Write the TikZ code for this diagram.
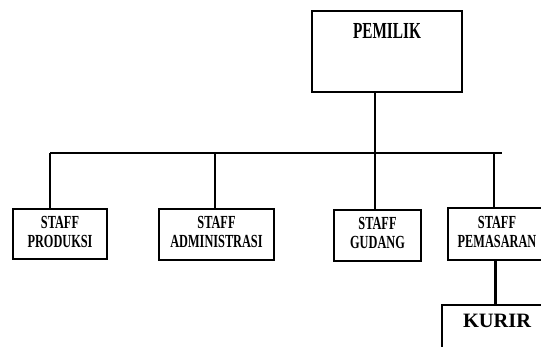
\documentclass[tikz,border=0pt]{standalone}
\usepackage{fontspec}
\usepackage{graphicx}
\setmainfont{Liberation Serif}
\newcommand\tallstack[2]{\scalebox{1}[1.5]{\begin{tabular}{@{}c@{}}#1\\#2\end{tabular}}}
\tikzset{
  box/.style={draw=black, line width=1.5pt, rectangle, inner sep=0pt},
  stafftext/.style={font=\bfseries\fontsize{12.3}{12.7}\selectfont, inner sep=0pt},
  link/.style={draw=black, line width=2pt},
  bus/.style={draw=black, line width=2.6pt},
}
\begin{document}
\begin{tikzpicture}[x=1pt,y=-1pt]
\useasboundingbox (0,0) rectangle (541,347);
\clip (0,0) rectangle (541,347);
% owner
\node[box, minimum width=150, minimum height=81] (pemilik) at (387,51.5) {};
\node[inner sep=0pt, font=\bfseries\fontsize{15.3}{16}\selectfont] (pemiliktext) at (387,30.5) {\scalebox{1}[1.5]{PEMILIK}};
% staff boxes
\node[box, minimum width=94, minimum height=50] (produksi) at (60,234) {};
\node[stafftext] (produksitext) at (60,234) {\tallstack{STAFF}{PRODUKSI}};
\node[box, minimum width=115, minimum height=51] (admin) at (216.5,234.5) {};
\node[stafftext] (admintext) at (216.5,234.5) {\tallstack{STAFF}{ADMINISTRASI}};
\node[box, minimum width=87, minimum height=51] (gudang) at (377.5,235.5) {};
\node[stafftext] (gudangtext) at (377.5,235.5) {\tallstack{STAFF}{GUDANG}};
\node[box, minimum width=98, minimum height=52] (pemasaran) at (497,234) {};
\node[stafftext] (pemasarantext) at (497,234) {\tallstack{STAFF}{PEMASARAN}};
% courier
\node[box, minimum width=110, minimum height=60] (kurir) at (497,335) {};
\node[inner sep=0pt, anchor=base, font=\bfseries\fontsize{20.4}{22}\selectfont] (kurirtext) at (497,328) {KURIR};
% bus
\coordinate (b0) at (50,153);
\coordinate (b1) at (502,153);
\coordinate (j1) at (215,153);
\coordinate (j2) at (375,153);
\coordinate (j3) at (494,153);
\draw[bus] (b0) -- (b1);
\draw[link] (pemilik.south -| j2) -- (j2);
\draw[link] (b0) -- (b0 |- produksi.north);
\draw[link] (j1) -- (j1 |- admin.north);
\draw[link] (j2) -- (j2 |- gudang.north);
\draw[link] (j3) -- (j3 |- pemasaran.north);
\draw[link, line width=3pt] (pemasaran.south -| 495,0) -- (kurir.north -| 495,0);
\end{tikzpicture}
\end{document}
